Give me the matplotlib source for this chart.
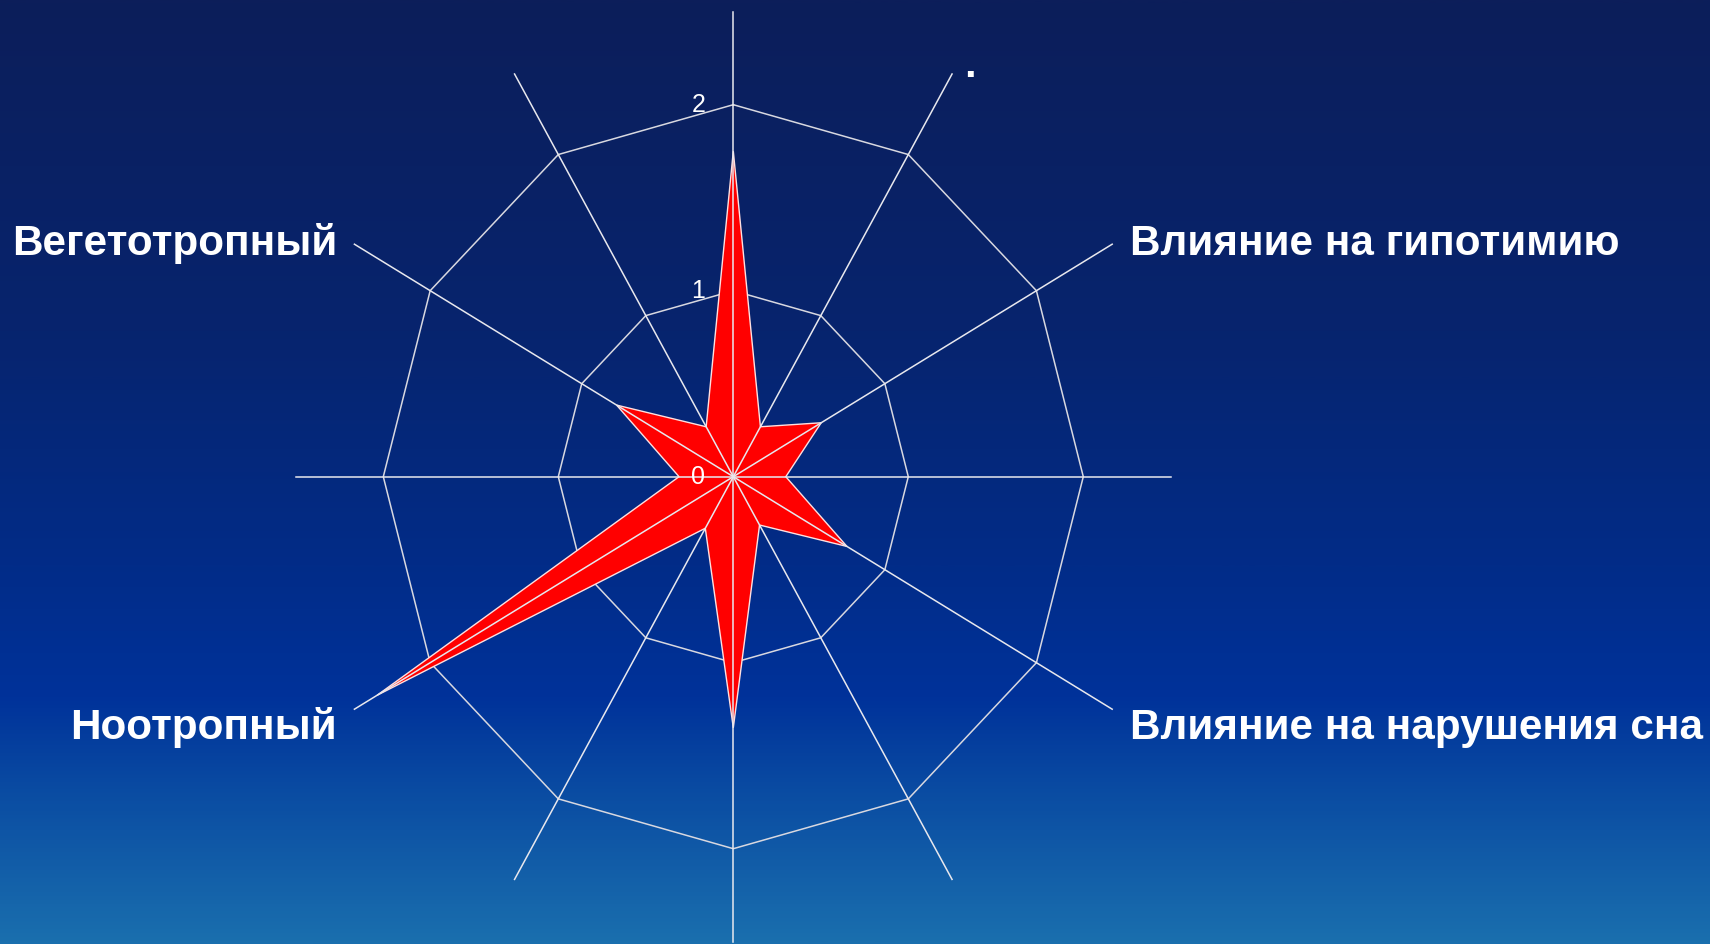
import numpy as np
import matplotlib
matplotlib.use("Agg")
import matplotlib.pyplot as plt
from matplotlib.colors import LinearSegmentedColormap

# spokes clockwise from the top, 30 degrees apart
angles_deg = [0, 30, 60, 90, 120, 150, 180, 210, 240, 270, 300, 330]
values = [1.75, 0.31, 0.58, 0.30, 0.75, 0.30, 1.35, 0.32, 2.35, 0.31, 0.77, 0.31]
axis_labels = ["", "", "Влияние на гипотимию", "", "Влияние на нарушения сна", "",
               "", "", "Ноотропный", "", "Вегетотропный", ""]
ring_levels = [1, 2]
tick_values = [0, 1, 2]
spoke_len = 2.5

# background gradient stops (top -> bottom)
bg_pos = [0.0, 0.35, 0.6, 0.74, 0.85, 1.0]
bg_cols = ["#0c1e5a", "#07246e", "#022c88", "#00329a", "#0b4ea3", "#1a6fae"]

W, H = 1710, 944
cx, cy = 733.3, 476.7   # centre in pixels (from top-left)
sx, sy = 175.0, 186.0   # pixels per unit

fig = plt.figure(figsize=(W / 100, H / 100), dpi=100)
ax = fig.add_axes([0, 0, 1, 1])
x0, x1 = -cx / sx, (W - cx) / sx
y0, y1 = -(H - cy) / sy, cy / sy
ax.set_xlim(x0, x1)
ax.set_ylim(y0, y1)
ax.axis("off")

cmap = LinearSegmentedColormap.from_list("bg", list(zip(bg_pos, bg_cols)))
grad = np.linspace(0, 1, 512).reshape(-1, 1)
ax.imshow(grad, cmap=cmap, extent=[x0, x1, y0, y1], aspect="auto", zorder=0)

th = np.radians(angles_deg)
sin_t, cos_t = np.sin(th), np.cos(th)

# rings
for lv in ring_levels:
    xs = np.append(lv * sin_t, lv * sin_t[0])
    ys = np.append(lv * cos_t, lv * cos_t[0])
    ax.plot(xs, ys, color="#d8d8e0", lw=1.1, zorder=1)

# star
r = np.array(values)
ax.fill(r * sin_t, r * cos_t, facecolor="#ff0000", edgecolor="#ffe0e0", lw=1.0, zorder=2)

# spokes
for s, c in zip(sin_t, cos_t):
    ax.plot([0, spoke_len * s], [0, spoke_len * c], color="#e8e8ee", lw=1.1, zorder=3)

# scale labels on the top spoke
for t in tick_values:
    ax.text(-0.16, t, str(t), color="white", fontsize=18, ha="right", va="center",
            family="Liberation Sans", zorder=4)

# category labels
for s, c, lab in zip(sin_t, cos_t, axis_labels):
    if not lab:
        continue
    xe, ye = spoke_len * s, spoke_len * c
    if s > 0:
        xt, ha = xe + 0.1, "left"
    else:
        xt, ha = xe - 0.1, "right"
    yt = 1.192 if c > 0 else -1.41
    ax.text(xt, yt, lab, color="white", fontsize=30.4, fontweight="bold", ha=ha,
            va="baseline", family="Liberation Sans", zorder=4)

fig.text(970 / W, 1 - 77 / H, ".", color="white", fontsize=30, fontweight="bold",
         ha="center", va="baseline", family="Liberation Sans")

fig.savefig("out.png", dpi=100)
